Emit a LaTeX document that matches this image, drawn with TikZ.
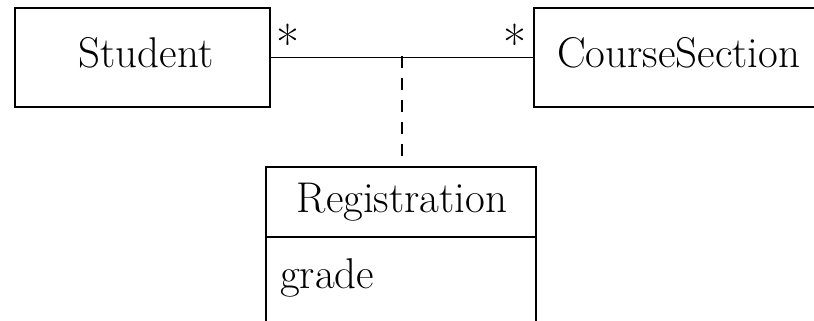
\documentclass[tikz,border=0pt]{standalone}
\begin{document}
\begin{tikzpicture}[x=1pt,y=-1pt,
  classbox/.style={draw, line width=1.4pt, inner sep=0pt, rectangle},
  lbl/.style={inner sep=0pt, font=\fontsize{43}{50}\selectfont},
  mult/.style={inner sep=0pt, anchor=base, font=\fontsize{50}{58}\selectfont},
  assoc/.style={line width=1.4pt},
  assocdash/.style={line width=1.4pt, dash pattern=on 12pt off 10pt}]
\useasboundingbox (0,0) rectangle (814,321);
\clip (0,0) rectangle (814,321);
% boxes
\node[classbox, minimum width=255pt, minimum height=99pt] (student) at (142.5,57.5) {};
\node[classbox, minimum width=306pt, minimum height=99pt] (course) at (687,57.5) {};
\node[classbox, minimum width=270pt, minimum height=70pt] (regname) at (401,202) {};
\node[classbox, minimum width=270pt, minimum height=110pt] (regattr) at (401,292) {};
% texts
\node[lbl, anchor=base] (studenttxt) at (146,68) {Student};
\node[lbl, anchor=base west] (coursetxt) at (557,68) {CourseSection};
\node[lbl, anchor=base] (regtxt) at (402,212) {Registration};
\node[lbl, anchor=base west] (gradetxt) at (280,288) {grade};
% association
\draw[assoc] (student.east) -- (course.west);
\coordinate (mid) at (402,56);
\draw[assocdash] (mid) -- (mid |- regname.north);
% multiplicities
\node[mult] (m1) at (288,62) {*};
\node[mult] (m2) at (515,62) {*};
\end{tikzpicture}
\end{document}
